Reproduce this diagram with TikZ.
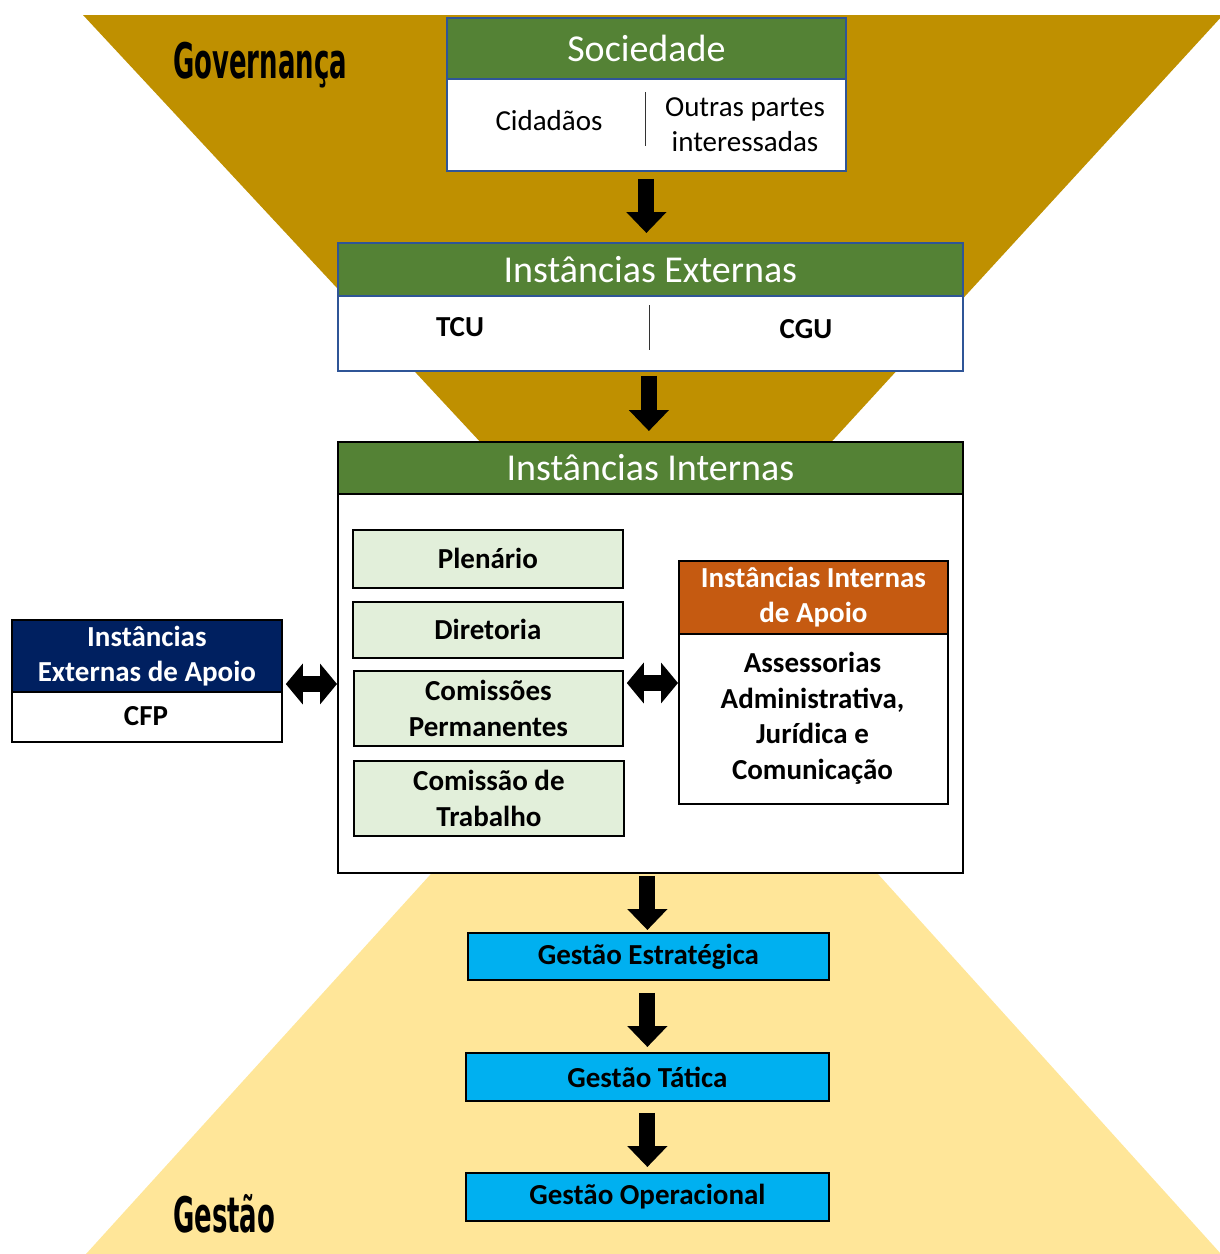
\documentclass[tikz,border=0pt]{standalone}
\usepackage{fontspec}
\setmainfont{Carlito}
\newfontfamily\agencyfont{DejaVu Sans}
\usetikzlibrary{arrows.meta,calc}
\definecolor{gold}{HTML}{BF9000}
\definecolor{lightyel}{HTML}{FFE699}
\definecolor{hgreen}{HTML}{548235}
\definecolor{bordblue}{HTML}{2F5597}
\definecolor{navyc}{HTML}{002060}
\definecolor{orangec}{HTML}{C55A11}
\definecolor{lgreen}{HTML}{E2EFDA}
\definecolor{cyanc}{HTML}{00B0F0}
\newcommand\agencytext[1]{\scalebox{0.53}[1]{\agencyfont\bfseries\fontsize{49}{49}\selectfont #1}}
\begin{document}
\begin{tikzpicture}[x=1pt,y=-1pt,
  frame/.style={draw, line width=1.8pt, inner sep=0pt, anchor=north west, fill=white},
  hdr/.style={frame, text=white},
  titlefont/.style={font=\fontsize{38}{44}\selectfont},
  regtext/.style={inner sep=0pt, align=center, font=\fontsize{29}{35}\selectfont},
  boldtext/.style={inner sep=0pt, align=center, font=\fontsize{29}{35.5}\selectfont\bfseries},
  gbox/.style={frame, fill=lgreen, align=center, font=\fontsize{29}{35.5}\selectfont\bfseries},
  cbox/.style={frame, fill=cyanc, align=center, font=\fontsize{29}{35.5}\selectfont\bfseries},
  downarrow/.style={line width=16pt, -{Triangle[width=39pt,length=21pt]}},
  dblarrow/.style={line width=16pt, {Triangle[width=40pt,length=17pt]}-{Triangle[width=40pt,length=17pt]}},
  divider/.style={line width=1pt, draw=black!80}
]
\useasboundingbox (0,0) rectangle (1220,1254);
% background triangles
\fill[gold] (83,15) -- (1223,15) -- (657,632) -- cycle;
\fill[lightyel] (86,1254) -- (1221,1254) -- (655,627) -- cycle;

% labels
\node[anchor=base west, inner sep=0pt] (gov) at (173,78) {\agencytext{Governança}};
\node[anchor=base west, inner sep=0pt] (gest) at (173,1232) {\agencytext{Gestão}};

% Sociedade
\node[frame, draw=bordblue, minimum width=399, minimum height=153] (soc) at (446,17) {};
\node[hdr, draw=bordblue, fill=hgreen, minimum width=399, minimum height=61, titlefont] (sochead) at (446,17) {Sociedade};
\node[regtext] (cid) at (549,121) {Cidadãos};
\node[regtext] (outras) at (745,125) {Outras partes\\interessadas};
\draw[divider] (645,92) -- (645,146);

% Instancias Externas
\node[frame, draw=bordblue, minimum width=625, minimum height=128] (ext) at (337,242) {};
\node[hdr, draw=bordblue, fill=hgreen, minimum width=625, minimum height=53, titlefont] (exthead) at (337,242) {Instâncias Externas};
\node[boldtext] (tcu) at (460,327) {TCU};
\node[boldtext] (cgu) at (806,329) {CGU};
\draw[divider] (649,305) -- (649,350);

% Instancias Internas
\node[frame, minimum width=625, minimum height=431] (int) at (337,441) {};
\node[hdr, fill=hgreen, minimum width=625, minimum height=52, titlefont] (inthead) at (337,441) {Instâncias Internas};

\node[gbox, minimum width=270, minimum height=58] (plen) at (352,529) {Plenário};
\node[gbox, minimum width=270, minimum height=56] (dir) at (352,601) {Diretoria};
\node[gbox, minimum width=269, minimum height=75] (comp) at (353,670) {Comissões\\Permanentes};
\node[gbox, minimum width=270, minimum height=75] (comt) at (353,760) {Comissão de\\Trabalho};

% Instancias Internas de Apoio
\node[frame, minimum width=269, minimum height=243] (orng) at (678,560) {};
\node[hdr, fill=orangec, minimum width=269, minimum height=73, align=center, font=\fontsize{29}{35}\selectfont\bfseries] (ornghead) at (678,560) {Instâncias Internas\\de Apoio};
\node[boldtext] (assess) at (812.5,718) {Assessorias\\Administrativa,\\Jurídica e\\Comunicação};

% Instancias Externas de Apoio
\node[frame, minimum width=270, minimum height=122] (navy) at (11,619) {};
\node[hdr, fill=navyc, minimum width=270, minimum height=72, align=center, font=\fontsize{29}{35}\selectfont\bfseries] (navyhead) at (11,619) {Instâncias\\Externas de Apoio};
\node[boldtext] (cfp) at (146,716) {CFP};

% Gestao boxes
\node[cbox, minimum width=361, minimum height=47] (ges) at (467,932) {Gestão Estratégica};
\node[cbox, minimum width=363, minimum height=48] (get) at (465,1052) {Gestão Tática};
\node[cbox, minimum width=363, minimum height=48] (geo) at (465,1172) {Gestão Operacional};

% arrows
\draw[downarrow] ($(soc.south)+(0,7)$) -- ($(soc.south |- exthead.north)+(0,-9)$);
\draw[downarrow] ($(ext.south)+(-1.5,4)$) -- ($(ext.south |- inthead.north)+(-1.5,-10)$);
\draw[downarrow] ($(int.south -| ges.north)+(-1,2)$) -- ($(ges.north)+(-1,-2)$);
\draw[downarrow] ($(ges.south)+(-1,12)$) -- ($(ges.south |- get.north)+(-1,-5)$);
\draw[downarrow] ($(get.south)+(0,11)$) -- ($(geo.north)+(0,-5)$);

\coordinate (dy1) at (0,684);
\coordinate (dy2) at (0,683);
\draw[dblarrow] ($(navy.east |- dy1)+(3,0)$) -- (int.west |- dy1);
\draw[dblarrow] ($(comp.east |- dy2)+(3,0)$) -- (orng.west |- dy2);
\end{tikzpicture}
\end{document}
